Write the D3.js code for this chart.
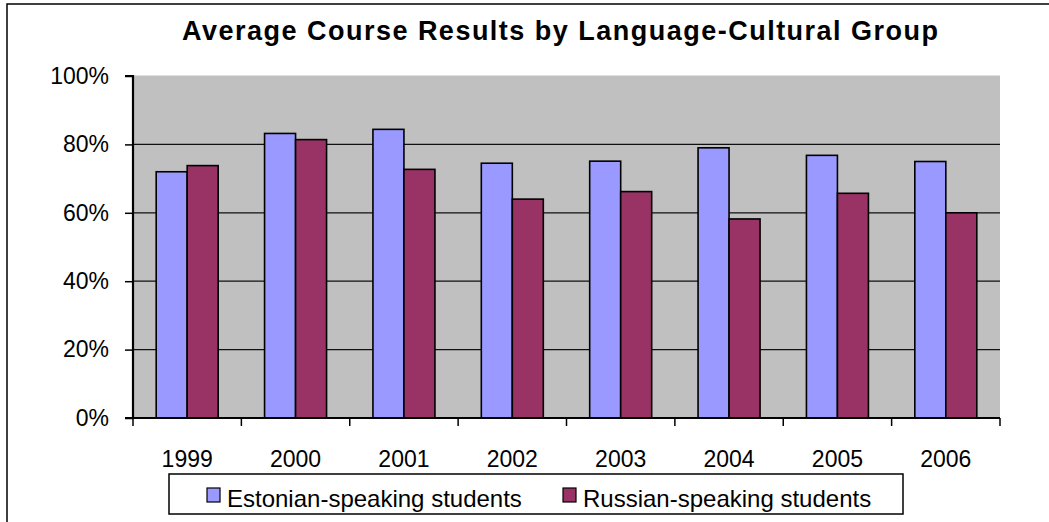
<!DOCTYPE html>
<html><head><meta charset="utf-8">
<script src="https://cdnjs.cloudflare.com/ajax/libs/d3/7.8.5/d3.min.js"></script>
<style>body{margin:0;background:#fff}svg{display:block}text{font-family:"Liberation Sans",Arial,sans-serif}</style>
</head><body>
<script>
const years = ["1999","2000","2001","2002","2003","2004","2005","2006"];
const estonian = [72.0, 83.2, 84.4, 74.5, 75.1, 79.0, 76.8, 75.0];
const russian  = [73.8, 81.4, 72.7, 64.0, 66.2, 58.2, 65.7, 60.0];
const seriesNames = ["Estonian-speaking students","Russian-speaking students"];
const seriesColors = ["#9999ff","#993366"];
const yTicks = [0,20,40,60,80,100];
const title = "Average Course Results by Language-Cultural  Group";

const W=1049,H=522;
const svg=d3.select("body").append("svg").attr("width",W).attr("height",H);
svg.append("rect").attr("x",7).attr("y",4).attr("width",1100).attr("height",600)
  .attr("fill","#fff").attr("stroke","#000").attr("stroke-width",1.5);

const L=133,R=1000,T=76,B=418;
const x=d3.scaleBand().domain(years).range([L,R]).paddingInner(0).paddingOuter(0);
const y=d3.scaleLinear().domain([0,100]).range([B,T]);
const groupW=62;
const xs=d3.scaleBand().domain([0,1]).range([0,groupW]);

svg.append("rect").attr("x",L).attr("y",y(100)-0.5).attr("width",R-L).attr("height",B-y(100)+0.5).attr("fill","#c0c0c0");

// gridlines
svg.append("g").selectAll("line").data(yTicks.filter(d=>d>0&&d<100)).join("line")
  .attr("x1",L).attr("x2",R).attr("y1",d=>y(d)).attr("y2",d=>y(d))
  .attr("stroke","#111").attr("stroke-width",1.3);

// bars
const data = years.map((yr,i)=>({yr,vals:[estonian[i],russian[i]]}));
const g=svg.append("g");
data.forEach(d=>{
  const x0=x(d.yr)+(x.bandwidth()-groupW)/2;
  g.selectAll(null).data(d.vals).join("rect")
    .attr("x",(v,j)=>x0+xs(j)).attr("width",xs.bandwidth())
    .attr("y",v=>y(v)).attr("height",v=>B-y(v))
    .attr("fill",(v,j)=>seriesColors[j]).attr("stroke","#000").attr("stroke-width",1.6);
});

// y axis
const yAxis=d3.axisLeft(y).tickValues(yTicks).tickFormat(d=>d+"%").tickSize(8).tickPadding(16);
const ya=svg.append("g").attr("transform",`translate(${L},0)`).call(yAxis);
ya.select(".domain").attr("stroke","#000").attr("stroke-width",2.2).attr("d",`M-8,${T}H0V${B}H-8`);
ya.selectAll(".tick line").attr("stroke","#000").attr("stroke-width",1.5);
ya.selectAll(".tick text").attr("font-size",23).attr("fill","#000").attr("font-family","Liberation Sans, Arial, sans-serif");

// x axis
const xa=svg.append("g").attr("transform",`translate(0,${B})`);
xa.append("line").attr("x1",L).attr("x2",R).attr("y1",0).attr("y2",0).attr("stroke","#000").attr("stroke-width",2);
const bounds=years.map(d=>x(d)).concat([R]);
xa.selectAll(".tk").data(bounds).join("line").attr("x1",d=>d).attr("x2",d=>d).attr("y1",0).attr("y2",8)
  .attr("stroke","#000").attr("stroke-width",1.5);
xa.selectAll(".lbl").data(years).join("text").attr("x",d=>x(d)+x.bandwidth()/2).attr("y",49)
  .attr("text-anchor","middle").attr("font-size",23).attr("fill","#000").text(d=>d);

// title
svg.append("text").attr("x",560).attr("y",40).attr("text-anchor","middle")
  .attr("font-size",27).attr("font-weight","bold").attr("textLength",756).attr("lengthAdjust","spacing").text(title);

// legend
const lg=svg.append("g");
lg.append("rect").attr("x",169).attr("y",474).attr("width",734).attr("height",40).attr("fill","#fff").attr("stroke","#000").attr("stroke-width",1.5);
const lx=[207,563];
seriesNames.forEach((n,i)=>{
  lg.append("rect").attr("x",lx[i]).attr("y",488).attr("width",13).attr("height",14).attr("fill",seriesColors[i]).attr("stroke","#000").attr("stroke-width",1.2);
  lg.append("text").attr("x",lx[i]+20).attr("y",507).attr("font-size",24).attr("fill","#000").text(n);
});
</script>
</body></html>
